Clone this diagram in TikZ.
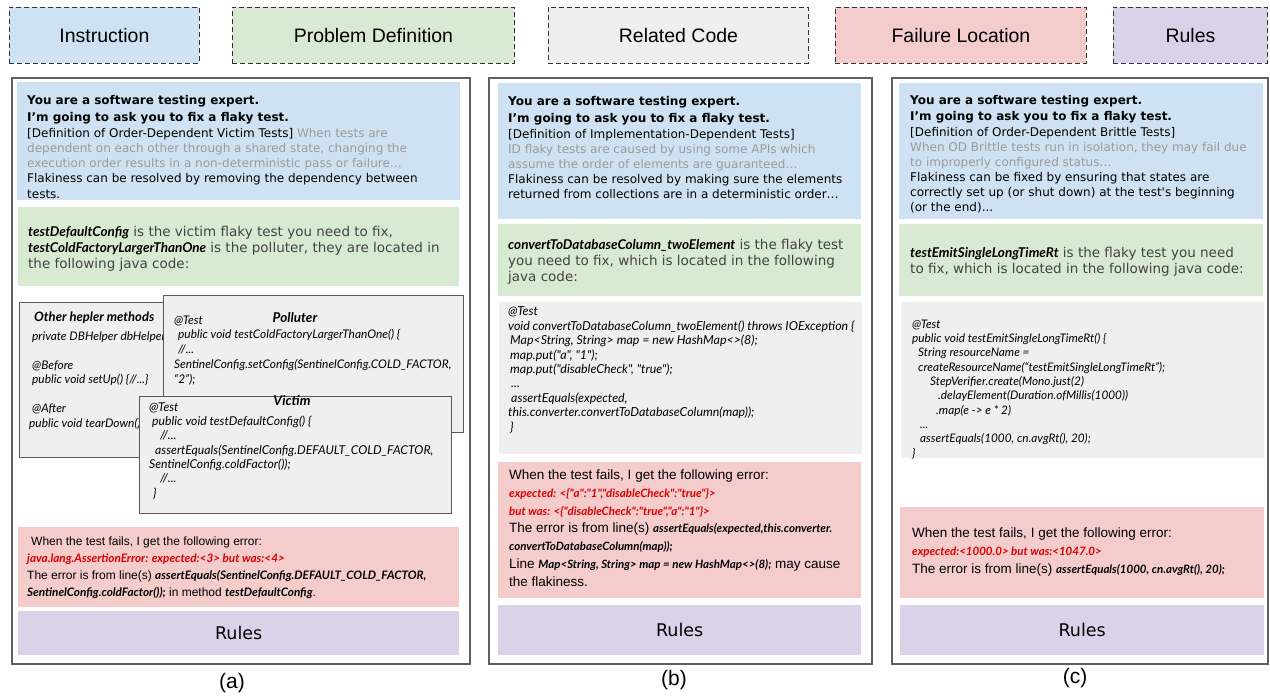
\documentclass[tikz,border=0pt]{standalone}
\usepackage{fontspec}
\setmainfont{Liberation Sans}
\newfontfamily\dv{DejaVu Sans}
\newfontfamily\lato{Lato}
\definecolor{cblue}{HTML}{CFE2F3}
\definecolor{cgreen}{HTML}{D9EAD3}
\definecolor{cgray}{HTML}{EFEFEF}
\definecolor{cred}{HTML}{F4CCCC}
\definecolor{cpurple}{HTML}{D9D2E9}
\definecolor{tgray}{HTML}{9A9A9A}
\definecolor{tdark}{HTML}{434343}
\definecolor{errred}{HTML}{DC0000}
\definecolor{frame}{HTML}{5F5F5F}
\newcommand{\fsz}[2]{\fontsize{#1}{#2}\selectfont}
\newcommand{\codebf}[1]{{\lato\bfseries\itshape #1}}
\tikzset{
  hdr/.style={draw=black!80, dash pattern=on 5pt off 3pt, line width=0.9pt, anchor=north west, inner sep=0pt},
  hdrtext/.style={font=\fsz{19.5}{22}, inner sep=0pt},
  panel/.style={draw=frame, line width=1.8pt, anchor=north west, inner sep=0pt},
  band/.style={anchor=north west, inner sep=0pt, draw=none},
  codebox/.style={draw=black!65, line width=0.8pt, fill=cgray, anchor=north west, inner sep=0pt},
  txt/.style={anchor=base west, inner sep=0pt, align=left},
  bluetxt/.style={txt, font=\dv\fsz{12}{15}},
  greentxt/.style={txt, font=\dv\fsz{13.5}{15.8}, text=tdark},
  rulestxt/.style={font=\dv\fsz{17.5}{20}, inner sep=0pt},
  lbl/.style={font=\fsz{21}{24}, inner sep=0pt},
}
% note: for multi-line nodes the base anchor is the baseline of the LAST line
\begin{document}
\begin{tikzpicture}[x=1pt,y=-1pt]
\useasboundingbox (0,0) rectangle (1270,696);
\fill[white] (0,0) rectangle (1270,696);

% ---------- header legend ----------
\node[hdr, fill=cblue,   minimum width=190, minimum height=56] (h1) at (9,7) {};
\node[hdr, fill=cgreen,  minimum width=282, minimum height=56] (h2) at (232,7) {};
\node[hdr, fill=cgray,   minimum width=260, minimum height=56] (h3) at (548,7) {};
\node[hdr, fill=cred,    minimum width=251, minimum height=56] (h4) at (835,7) {};
\node[hdr, fill=cpurple, minimum width=154, minimum height=56] (h5) at (1113,7) {};
\node[hdrtext] (h1t) at (h1.center) {Instruction};
\node[hdrtext] (h2t) at (h2.center) {Problem Definition};
\node[hdrtext] (h3t) at (h3.center) {Related Code};
\node[hdrtext] (h4t) at (h4.center) {Failure Location};
\node[hdrtext] (h5t) at (h5.center) {Rules};

% ---------- panels ----------
\node[panel, minimum width=458, minimum height=586] (pa) at (11,77) {};
\node[panel, minimum width=383, minimum height=586] (pb) at (488,77) {};
\node[panel, minimum width=376, minimum height=586] (pc) at (891,77) {};

% =============== panel (a) ===============
\node[band, fill=cblue,   minimum width=443, minimum height=118] (ab) at (17,82) {};
\node[band, fill=cgreen,  minimum width=441, minimum height=79]  (ag) at (18,207) {};
\node[band, fill=cred,    minimum width=441, minimum height=80]  (ar) at (18,527) {};
\node[band, fill=cpurple, minimum width=441, minimum height=44]  (ap) at (18,611) {};

\node[bluetxt, font=\dv\fsz{12}{15.2}] (abt) at (27,198) {\bfseries You are a software testing expert.\\[1.3pt]
\bfseries I’m going to ask you to fix a flaky test.\\[1pt]
[Definition of Order-Dependent Victim Tests] {\color{tgray}When tests are}\\
{\color{tgray}dependent on each other through a shared state, changing the}\\
{\color{tgray}execution order results in a non-deterministic pass or failure…}\\
Flakiness can be resolved by removing the dependency between\\
tests.};

\node[greentxt] (agt) at (28,268) {{\color{black}\codebf{testDefaultConfig}} is the victim flaky test you need to fix,\\
{\color{black}\codebf{testColdFactoryLargerThanOne}} is the polluter, they are located in\\
the following java code:};

% code boxes
\node[codebox, minimum width=200, minimum height=155] (ah) at (19,302) {};
\node[txt, font=\lato\bfseries\itshape\fsz{13}{15}] (aht) at (34,321) {Other hepler methods};
\node[txt, font=\lato\itshape\fsz{11.9}{14.5}] (ahc) at (29,427) {\hspace{3pt}private DBHelper dbHelper\\[14.5pt]
\hspace{3pt}@Before\\
\hspace{3pt}public void setUp() \{//...\}\\[14.5pt]
\hspace{3pt}@After\\
public void tearDown()};

\node[codebox, minimum width=300, minimum height=137] (apol) at (163,295) {};
\node[font=\lato\bfseries\itshape\fsz{13.5}{15}, anchor=base, inner sep=0pt] (apolt) at (295,322) {Polluter};
\node[txt, font=\lato\itshape\fsz{11.9}{14.7}] (apolc) at (174,383) {@Test\\
\hspace{4pt}public void testColdFactoryLargerThanOne() \{\\
\hspace{4pt}//...\\
SentinelConfig.setConfig(SentinelConfig.COLD\_FACTOR,\\
“2”);};

\node[codebox, minimum width=312, minimum height=117] (avic) at (139,396) {};
\node[font=\lato\bfseries\itshape\fsz{13.5}{15}, anchor=base, inner sep=0pt] (avict) at (292,405) {Victim};
\node[txt, font=\lato\itshape\fsz{12.2}{14.3}] (avicc) at (149,497) {@Test\\
\hspace{3pt}public void testDefaultConfig() \{\\
\hspace{11pt}//...\\
\hspace{6pt}assertEquals(SentinelConfig.DEFAULT\_COLD\_FACTOR,\\
SentinelConfig.coldFactor());\\
\hspace{11pt}//...\\
\hspace{4pt}\}};

\node[txt, font=\fsz{12}{16.7}] (art) at (27,596) {\hspace{4pt}When the test fails, I get the following error:\\
{\color{errred}\codebf{\fsz{11.7}{16.7}java.lang.AssertionError: expected:<3> but was:<4>}}\\
The error is from line(s) \codebf{\fsz{11.7}{16.7}assertEquals(SentinelConfig.DEFAULT\_COLD\_FACTOR,}\\
\codebf{\fsz{11.7}{16.7}SentinelConfig.coldFactor());} in method \codebf{\fsz{11.7}{16.7}testDefaultConfig}.};

\node[rulestxt] (apt) at (ap.center) {Rules};
\node[lbl] (la) at (232,683) {(a)};

% =============== panel (b) ===============
\node[band, fill=cblue,   minimum width=363, minimum height=136] (bb) at (498,83) {};
\node[band, fill=cgreen,  minimum width=363, minimum height=72]  (bg) at (498,224) {};
\node[band, fill=cgray,   minimum width=363, minimum height=152] (bc) at (499,302) {};
\node[band, fill=cred,    minimum width=363, minimum height=136] (br) at (498,462) {};
\node[band, fill=cpurple, minimum width=363, minimum height=50]  (bp) at (498,605) {};

\node[bluetxt] (bbt) at (508,198) {\bfseries You are a software testing expert.\\[1.3pt]
\bfseries I’m going to ask you to fix a flaky test.\\[1pt]
[Definition of Implementation-Dependent Tests]\\
{\color{tgray}ID flaky tests are caused by using some APIs which}\\
{\color{tgray}assume the order of elements are guaranteed…}\\
Flakiness can be resolved by making sure the elements\\
returned from collections are in a deterministic order…};

\node[greentxt] (bgt) at (508,281) {{\color{black}\codebf{convertToDatabaseColumn\_twoElement}} is the flaky test\\
you need to fix, which is located in the following\\
java code:};

\node[txt, font=\lato\itshape\fsz{12.4}{14.4}] (bct) at (508,431) {@Test\\
void convertToDatabaseColumn\_twoElement() throws IOException \{\\
\hspace{2pt}Map<String, String> map = new HashMap<>(8);\\
\hspace{2pt}map.put("a", "1");\\
\hspace{2pt}map.put("disableCheck", "true");\\
\hspace{3pt}...\\
\hspace{3pt}assertEquals(expected,\\
this.converter.convertToDatabaseColumn(map));\\
\hspace{2pt}\}};

\node[txt, font=\fsz{13.5}{17.7}] (brt) at (509,586) {When the test fails, I get the following error:\\
{\color{errred}\codebf{\fsz{11.5}{17.7}expected: <\{"a":"1","disableCheck":"true"\}>}}\\
{\color{errred}\codebf{\fsz{11.5}{17.7}but was: <\{"disableCheck":"true","a":"1"\}>}}\\
The error is from line(s) \codebf{\fsz{11.5}{17.7}assertEquals(expected,this.converter.}\\
\codebf{\fsz{11.5}{17.7}convertToDatabaseColumn(map));}\\
Line \codebf{\fsz{11.5}{17.7}Map<String, String> map = new HashMap<>(8);} may cause\\
the flakiness.};

\node[rulestxt] (bpt) at (bp.center) {Rules};
\node[lbl] (lb) at (674,680) {(b)};

% =============== panel (c) ===============
\node[band, fill=cblue,   minimum width=364, minimum height=136] (cb) at (899,83) {};
\node[band, fill=cgreen,  minimum width=364, minimum height=72]  (cg) at (899,224) {};
\node[band, fill=cgray,   minimum width=363, minimum height=156] (cc) at (901,302) {};
\node[band, fill=cred,    minimum width=364, minimum height=91]  (cr) at (900,507) {};
\node[band, fill=cpurple, minimum width=364, minimum height=50]  (cp) at (900,605) {};

\node[bluetxt] (cbt) at (910,211.5) {\bfseries You are a software testing expert.\\[1.3pt]
\bfseries I’m going to ask you to fix a flaky test.\\[1pt]
[Definition of Order-Dependent Brittle Tests]\\
{\color{tgray}When OD Brittle tests run in isolation, they may fail due}\\
{\color{tgray}to improperly configured status…}\\
Flakiness can be fixed by ensuring that states are\\
correctly set up (or shut down) at the test's beginning\\
(or the end)...};

\node[greentxt] (cgt) at (910,273) {{\color{black}\codebf{testEmitSingleLongTimeRt}} is the flaky test you need\\
to fix, which is located in the following java code:};

\node[txt, font=\lato\itshape\fsz{11.8}{14.3}] (cct) at (912,457) {@Test\\
public void testEmitSingleLongTimeRt() \{\\
\hspace{6pt}String resourceName =\\
\hspace{6pt}createResourceName(“testEmitSingleLongTimeRt”);\\
\hspace{18pt}StepVerifier.create(Mono.just(2)\\
\hspace{26pt}.delayElement(Duration.ofMillis(1000))\\
\hspace{24pt}.map(e -> e * 2)\\
\hspace{8pt}...\\
\hspace{8pt}assertEquals(1000, cn.avgRt(), 20);\\
\}};

\node[txt, font=\fsz{13.5}{17.8}] (crt) at (912,573.5) {When the test fails, I get the following error:\\
{\color{errred}\codebf{\fsz{11.5}{17.8}expected:<1000.0> but was:<1047.0>}}\\
The error is from line(s) \codebf{\fsz{11.5}{17.8}assertEquals(1000, cn.avgRt(), 20);}};

\node[rulestxt] (cpt) at (cp.center) {Rules};
\node[lbl] (lc) at (1075,678) {(c)};
\end{tikzpicture}
\end{document}
